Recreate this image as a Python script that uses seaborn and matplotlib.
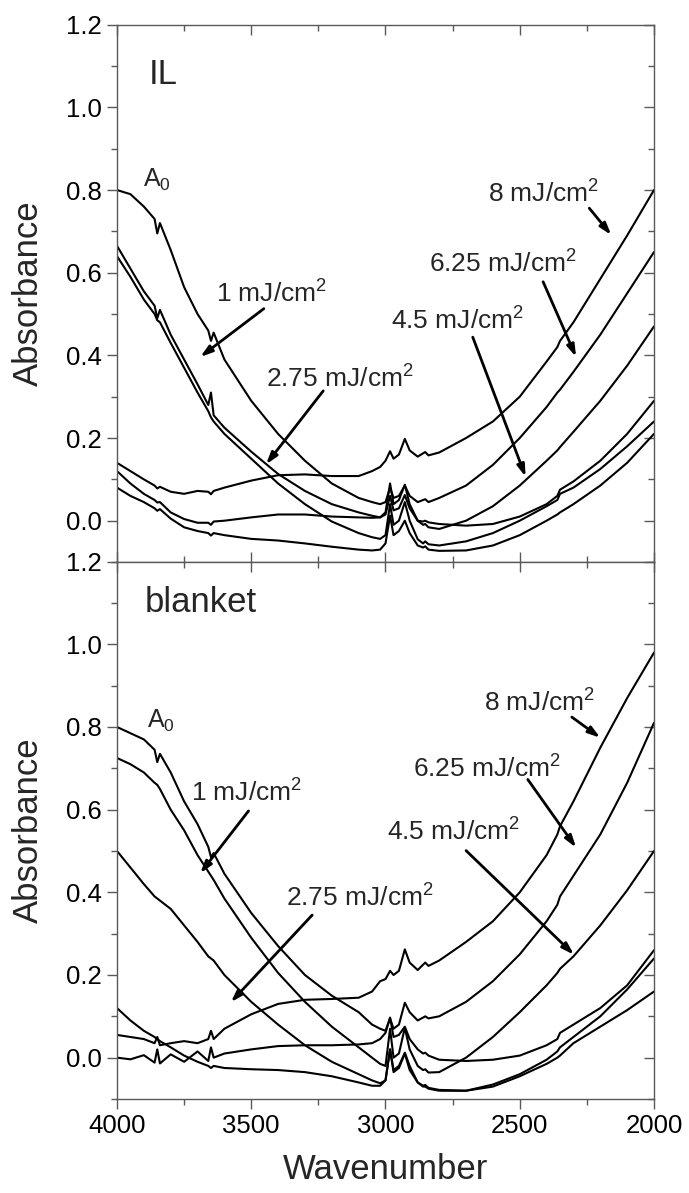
import numpy as np
import pandas as pd
import matplotlib
matplotlib.use("Agg")
import matplotlib.pyplot as plt
from matplotlib.ticker import MultipleLocator
import seaborn as sns

sns.set_style("ticks")
plt.rcParams['font.family'] = ['Liberation Sans', 'DejaVu Sans']
plt.rcParams['mathtext.fontset'] = 'custom'
plt.rcParams['mathtext.rm'] = 'Liberation Sans'
plt.rcParams['mathtext.it'] = 'Liberation Sans'

# wavenumber grid (cm-1)
wn = [4000, 3950, 3900, 3860, 3850, 3840, 3800, 3750, 3700, 3660,
      3650, 3640, 3600, 3500, 3400, 3300, 3200, 3100, 3050, 3020,
      3000, 2983, 2970, 2950, 2928, 2910, 2880, 2860, 2852, 2840,
      2800, 2700, 2600, 2500, 2400, 2360, 2350, 2300, 2200, 2100, 2000]

# IL panel
il_a0 = [0.80, 0.79, 0.76, 0.73, 0.695, 0.72, 0.655, 0.565, 0.50, 0.46,
         0.435, 0.455, 0.39, 0.29, 0.21, 0.145, 0.09, 0.055, 0.045, 0.04,
         0.045, 0.08, 0.055, 0.06, 0.085, 0.06, 0.045, 0.05, 0.052, 0.045,
         0.055, 0.085, 0.135, 0.20, 0.275, 0.31, 0.317, 0.36, 0.45, 0.55, 0.65]
il_1 = [0.665, 0.61, 0.555, 0.52, 0.49, 0.51, 0.45, 0.39, 0.33, 0.28,
        0.31, 0.255, 0.225, 0.167, 0.113, 0.072, 0.04, 0.02, 0.012, 0.008,
        0.02, 0.09, 0.04, 0.05, 0.087, 0.04, 0.0, -0.01, -0.008, -0.016,
        -0.02, 0.0, 0.035, 0.085, 0.145, 0.17, 0.178, 0.215, 0.29, 0.375, 0.47]
il_275 = [0.64, 0.59, 0.535, 0.50, 0.485, 0.48, 0.43, 0.37, 0.31, 0.265,
          0.25, 0.24, 0.21, 0.15, 0.09, 0.04, -0.002, -0.03, -0.04, -0.044,
          -0.035, 0.04, -0.01, 0.0, 0.045, 0.0, -0.045, -0.055, -0.05, -0.057,
          -0.06, -0.05, -0.03, 0.0, 0.035, 0.05, 0.065, 0.08, 0.125, 0.18, 0.24]
il_45 = [0.12, 0.09, 0.065, 0.05, 0.044, 0.045, 0.02, 0.004, -0.005, -0.005,
         -0.01, -0.002, 0.0, 0.008, 0.015, 0.015, 0.01, 0.008, 0.007, 0.008,
         0.015, 0.06, 0.025, 0.03, 0.062, 0.03, 0.0, -0.002, 0.0, -0.004,
         -0.008, -0.012, -0.008, 0.01, 0.04, 0.06, 0.075, 0.095, 0.145, 0.21, 0.29]
il_625 = [0.08, 0.06, 0.045, 0.03, 0.024, 0.028, 0.005, -0.016, -0.025, -0.03,
          -0.036, -0.03, -0.035, -0.044, -0.048, -0.055, -0.063, -0.07, -0.072, -0.07,
          -0.055, 0.012, -0.035, -0.025, 0.0, -0.03, -0.06, -0.065, -0.062, -0.07,
          -0.073, -0.072, -0.06, -0.035, 0.0, 0.015, 0.02, 0.04, 0.085, 0.14, 0.21]
il_8 = [0.14, 0.12, 0.10, 0.085, 0.078, 0.082, 0.07, 0.065, 0.072, 0.07,
        0.064, 0.072, 0.08, 0.097, 0.11, 0.112, 0.108, 0.108, 0.12, 0.13,
        0.145, 0.168, 0.15, 0.16, 0.198, 0.17, 0.155, 0.163, 0.166, 0.158,
        0.165, 0.20, 0.24, 0.30, 0.385, 0.42, 0.435, 0.48, 0.585, 0.69, 0.80]

# blanket panel
bl_a0 = [0.80, 0.785, 0.77, 0.745, 0.715, 0.735, 0.69, 0.62, 0.565, 0.51,
         0.485, 0.495, 0.445, 0.35, 0.27, 0.20, 0.15, 0.11, 0.08, 0.07,
         0.065, 0.095, 0.07, 0.08, 0.133, 0.11, 0.09, 0.097, 0.10, 0.095,
         0.10, 0.135, 0.185, 0.25, 0.33, 0.37, 0.39, 0.44, 0.54, 0.665, 0.81]
bl_1 = [0.725, 0.71, 0.69, 0.665, 0.66, 0.65, 0.60, 0.55, 0.49, 0.45,
        0.44, 0.43, 0.385, 0.29, 0.205, 0.135, 0.075, 0.025, 0.0, -0.015,
        -0.02, 0.07, 0.0, 0.01, 0.072, 0.02, -0.02, -0.03, -0.028, -0.036,
        -0.035, 0.0, 0.05, 0.11, 0.175, 0.205, 0.215, 0.245, 0.32, 0.405, 0.50]
bl_275 = [0.50, 0.46, 0.42, 0.39, 0.385, 0.38, 0.36, 0.32, 0.28, 0.245,
          0.24, 0.235, 0.20, 0.135, 0.08, 0.03, -0.01, -0.04, -0.055, -0.062,
          -0.055, 0.02, -0.03, -0.02, 0.012, -0.02, -0.06, -0.07, -0.07, -0.075,
          -0.08, -0.08, -0.065, -0.04, -0.005, 0.015, 0.025, 0.05, 0.10, 0.165, 0.24]
bl_45 = [0.12, 0.09, 0.065, 0.05, 0.045, 0.04, 0.025, 0.005, -0.01, -0.02,
         -0.025, -0.02, -0.025, -0.028, -0.03, -0.035, -0.045, -0.06, -0.068, -0.068,
         -0.055, 0.02, -0.035, -0.025, 0.01, -0.03, -0.06, -0.068, -0.066, -0.073,
         -0.078, -0.08, -0.07, -0.045, -0.015, 0.0, 0.005, 0.035, 0.075, 0.115, 0.16]
bl_625 = [0.0, -0.004, 0.006, -0.012, 0.02, -0.014, 0.008, -0.01, 0.015, -0.008,
          0.025, 0.0, 0.01, 0.02, 0.028, 0.03, 0.03, 0.032, 0.035, 0.045,
          0.06, 0.097, 0.05, 0.055, 0.075, 0.045, 0.02, 0.01, 0.012, 0.005,
          -0.005, -0.008, -0.005, 0.005, 0.03, 0.045, 0.06, 0.08, 0.12, 0.175, 0.26]
bl_8 = [0.055, 0.05, 0.045, 0.035, 0.05, 0.03, 0.035, 0.04, 0.035, 0.045,
        0.065, 0.045, 0.07, 0.105, 0.13, 0.14, 0.142, 0.145, 0.16, 0.185,
        0.19, 0.21, 0.20, 0.21, 0.262, 0.23, 0.212, 0.225, 0.23, 0.222,
        0.235, 0.28, 0.33, 0.40, 0.49, 0.54, 0.56, 0.62, 0.75, 0.87, 0.98]

doses = ["A0", "1", "2.75", "4.5", "6.25", "8"]
il_curves = [il_a0, il_1, il_275, il_45, il_625, il_8]
bl_curves = [bl_a0, bl_1, bl_275, bl_45, bl_625, bl_8]

dose_labels = ["1 mJ/cm$^2$", "2.75 mJ/cm$^2$", "4.5 mJ/cm$^2$",
               "6.25 mJ/cm$^2$", "8 mJ/cm$^2$"]
# (text x, text y, arrow start x, y, arrow end x, y)
il_notes = [(3633, 0.548, 3453, 0.513, 3690, 0.396),
            (3445, 0.344, 3232, 0.314, 3445, 0.136),
            (2978, 0.483, 2675, 0.444, 2478, 0.106),
            (2839, 0.621, 2413, 0.578, 2290, 0.396),
            (2618, 0.790, 2241, 0.756, 2159, 0.691)]
bl_notes = [(3723, 0.640, 3510, 0.597, 3690, 0.446),
            (3371, 0.386, 3273, 0.345, 3576, 0.134),
            (2994, 0.547, 2700, 0.501, 2298, 0.249),
            (2896, 0.698, 2470, 0.673, 2290, 0.508),
            (2634, 0.859, 2306, 0.824, 2200, 0.774)]


def long_frame(curves):
    rows = []
    for d, vals in zip(doses, curves):
        rows.append(pd.DataFrame({"wn": wn, "A": vals, "dose": d}))
    return pd.concat(rows, ignore_index=True)


fig = plt.figure(figsize=(6.89, 11.93), dpi=100)
ax1 = fig.add_axes([0.1698, 0.5289, 0.7794, 0.4504])
ax2 = fig.add_axes([0.1698, 0.0788, 0.7794, 0.4504])

panels = [(ax1, il_curves, il_notes, "IL", 3880, 1.08, 3903, 0.825),
          (ax2, bl_curves, bl_notes, "blanket", 3895, 1.10, 3887, 0.814)]

for ax, curves, notes, name, nx, ny, ax0, ay0 in panels:
    df = long_frame(curves)
    sns.lineplot(data=df, x="wn", y="A", units="dose", estimator=None,
                 sort=False, color="k", lw=1.5, ax=ax, legend=False)
    ax.set_xlim(4000, 2000)
    ax.set_ylim(-0.1, 1.2)
    ax.set_yticks([0.0, 0.2, 0.4, 0.6, 0.8, 1.0, 1.2])
    ax.yaxis.set_minor_locator(MultipleLocator(0.1))
    ax.set_xticks([4000, 3500, 3000, 2500, 2000])
    ax.xaxis.set_minor_locator(MultipleLocator(250))
    ax.set_ylabel("Absorbance", fontsize=25, va="center")
    ax.yaxis.set_label_coords(-0.164, 0.5)
    ax.tick_params(axis="both", which="both", colors="0.35", labelcolor="k",
                   labelsize=18.5, width=1, pad=4)
    ax.tick_params(which="major", length=7)
    ax.tick_params(which="minor", length=4)
    ax.tick_params(axis="y", which="both", right=True, direction="out")
    ax.tick_params(axis="x", which="both", top=True)
    for sp in ax.spines.values():
        sp.set_color("0.35")
        sp.set_linewidth(1)
    ax.text(nx, ny, name, fontsize=25, ha="left", va="center")
    ax.text(ax0, ay0, "A$_0$", fontsize=18, ha="left", va="center")
    for lab, (tx, ty, sx, sy, ex, ey) in zip(dose_labels, notes):
        ax.text(tx, ty, lab, fontsize=19, ha="left", va="center")
        ax.annotate("", xy=(ex, ey), xytext=(sx, sy),
                    arrowprops=dict(arrowstyle="-|>,head_length=0.7,head_width=0.22",
                                    color="k", lw=2, shrinkA=0, shrinkB=0))

# outward ticks on the left/bottom, inward on right/top like the original
ax1.tick_params(axis="x", which="both", direction="in", labelbottom=False)
ax2.tick_params(axis="x", which="both", direction="out")
for ax in (ax1, ax2):
    for t in ax.yaxis.get_ticklines(minor=False)[1::2] + ax.yaxis.get_ticklines(minor=True)[1::2]:
        t.set_marker(matplotlib.lines.TICKLEFT)
    for t in ax.xaxis.get_ticklines(minor=False)[1::2] + ax.xaxis.get_ticklines(minor=True)[1::2]:
        t.set_marker(matplotlib.lines.TICKDOWN)
ax1.set_xlabel("")
ax2.set_xlabel("Wavenumber", fontsize=25, va="center")
ax2.xaxis.set_label_coords(0.5, -0.132)

fig.savefig("out.png", dpi=100)
